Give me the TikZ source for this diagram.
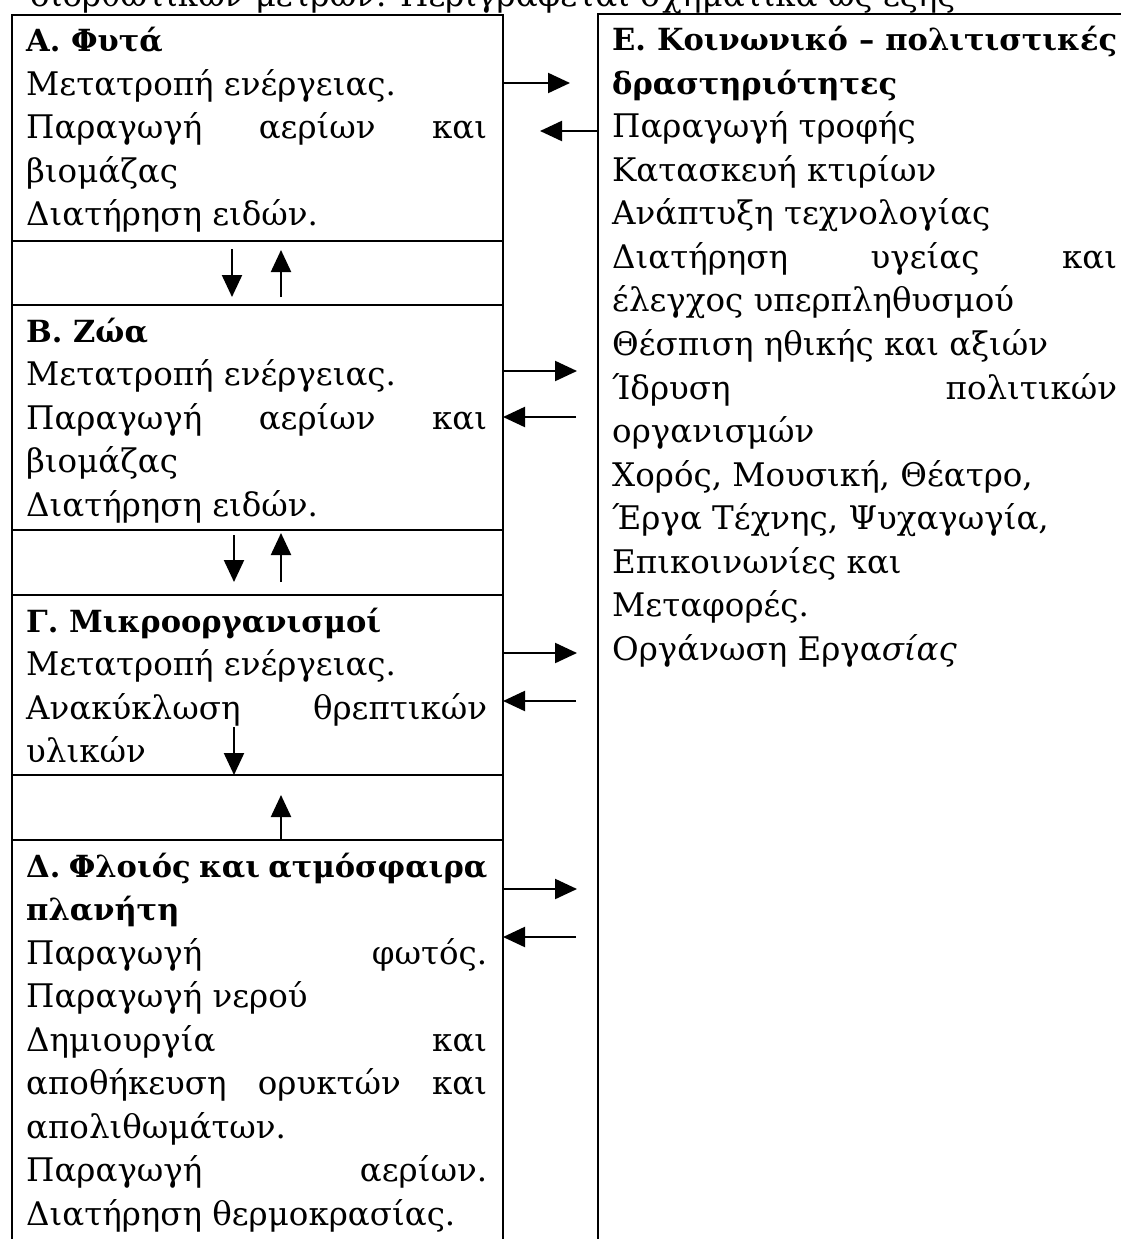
\documentclass[tikz,border=0pt]{standalone}
\usepackage{fontspec}
\setmainfont{DejaVu Serif}
\usetikzlibrary{arrows.meta}
\newcommand\jline[1]{\hbox to\hsize{#1}}
\newcommand\pline[1]{\hbox to\hsize{#1\hfil}}
\newcommand\ttl[1]{{\fontsize{30.5}{43.5}\selectfont\bfseries #1}}
\newcommand\boxlines[2]{\vtop{\hsize=#1\baselineskip=43.5pt\lineskiplimit=-100pt\lineskip=0pt\relax #2}}
\begin{document}
\begin{tikzpicture}[x=1pt,y=-1pt,
  panel/.style={draw, line width=2pt, inner sep=0pt, outer sep=0pt, anchor=north west},
  txt/.style={anchor=base west, inner sep=0pt, font=\fontsize{32.5}{43.5}\selectfont},
  arr/.style={line width=2.2pt, -{Triangle[length=22pt,width=20pt]}}]
\useasboundingbox (0,0) rectangle (1121,1239);
\clip (0,0) rectangle (1121,1239);
\fill[white] (0,0) rectangle (1121,1239);

% heading line above the table (its upper part lies outside the picture)
\node[txt] (head) at (30,7) {διορθωτικών μέτρων. Περιγράφεται σχηματικά ως εξής};

% left column panels
\node[panel, minimum width=491pt, minimum height=226pt] (A) at (12,15) {};
\node[panel, minimum width=491pt, minimum height=64pt] (G1) at (12,241) {};
\node[panel, minimum width=491pt, minimum height=225pt] (B) at (12,305) {};
\node[panel, minimum width=491pt, minimum height=65pt] (G2) at (12,530) {};
\node[panel, minimum width=491pt, minimum height=180pt] (C) at (12,595) {};
\node[panel, minimum width=491pt, minimum height=65pt] (G3) at (12,775) {};
\node[panel, minimum width=491pt, minimum height=420pt] (D) at (12,840) {};
% right panel
\node[panel, minimum width=532pt, minimum height=1246pt] (E) at (598,14) {};

% texts
\node[txt] (tA) at (26,52) {\boxlines{461pt}{%
  \pline{\ttl{Α. Φυτά}}%
  \pline{Μετατροπή ενέργειας.}%
  \jline{Παραγωγή\hfill αερίων\hfill και}%
  \pline{βιομάζας}%
  \pline{Διατήρηση ειδών.}}};
\node[txt] (tB) at (26,342) {\boxlines{461pt}{%
  \pline{\ttl{Β. Ζώα}}%
  \pline{Μετατροπή ενέργειας.}%
  \jline{Παραγωγή\hfill αερίων\hfill και}%
  \pline{βιομάζας}%
  \pline{Διατήρηση ειδών.}}};
\node[txt] (tC) at (26,632) {\boxlines{461pt}{%
  \pline{\ttl{Γ. Μικροοργανισμοί}}%
  \pline{Μετατροπή ενέργειας.}%
  \jline{Ανακύκλωση\hfill θρεπτικών}%
  \pline{υλικών}}};
\node[txt] (tD) at (26,877) {\boxlines{461pt}{%
  \jline{\ttl{Δ.}\hfill\ttl{Φλοιός}\hfill\ttl{και}\hfill\ttl{ατμόσφαιρα}}%
  \pline{\ttl{πλανήτη}}%
  \jline{Παραγωγή\hfill φωτός.}%
  \pline{Παραγωγή νερού}%
  \jline{Δημιουργία\hfill και}%
  \jline{αποθήκευση\hfill ορυκτών\hfill και}%
  \pline{απολιθωμάτων.}%
  \jline{Παραγωγή\hfill αερίων.}%
  \pline{Διατήρηση θερμοκρασίας.}}};
\node[txt] (tE) at (612,51) {\boxlines{505pt}{%
  \jline{\ttl{Ε.}\hfill\ttl{Κοινωνικό}\hfill\ttl{–}\hfill\ttl{πολιτιστικές}}%
  \pline{\ttl{δραστηριότητες}}%
  \pline{Παραγωγή τροφής}%
  \pline{Κατασκευή κτιρίων}%
  \pline{Ανάπτυξη τεχνολογίας}%
  \jline{Διατήρηση\hfill υγείας\hfill και}%
  \pline{έλεγχος υπερπληθυσμού}%
  \pline{Θέσπιση ηθικής και αξιών}%
  \jline{Ίδρυση\hfill πολιτικών}%
  \pline{οργανισμών}%
  \pline{Χορός, Μουσική, Θέατρο,}%
  \pline{Έργα Τέχνης, Ψυχαγωγία,}%
  \pline{Επικοινωνίες και}%
  \pline{Μεταφορές.}%
  \pline{Οργάνωση Εργα\textit{σίας}}}};

% horizontal arrow free ends
\coordinate (aR) at (570,83);
\coordinate (aL) at (540,131);
\coordinate (bR) at (577,371);
\coordinate (bL) at (576,417);
\coordinate (cR) at (577,653);
\coordinate (cL) at (576,701);
\coordinate (dR) at (577,889);
\coordinate (dL) at (576,937);
\draw[arr] (A.east |- aR) -- (aR);
\draw[arr] (E.west |- aL) -- (aL);
\draw[arr] (B.east |- bR) -- (bR);
\draw[arr] (bL) -- (B.east |- bL);
\draw[arr] (C.east |- cR) -- (cR);
\draw[arr] (cL) -- (C.east |- cL);
\draw[arr] (D.east |- dR) -- (dR);
\draw[arr] (dL) -- (D.east |- dL);

% vertical arrows
\coordinate (v1a) at (232,249); \coordinate (v1b) at (232,297);
\coordinate (v2a) at (281,297); \coordinate (v2b) at (281,250);
\coordinate (v3a) at (234,535); \coordinate (v3b) at (234,582);
\coordinate (v4a) at (281,582); \coordinate (v4b) at (281,533);
\coordinate (v5a) at (234,727);
\coordinate (v6b) at (281,795);
\draw[arr] (v1a) -- (v1b);
\draw[arr] (v2a) -- (v2b);
\draw[arr] (v3a) -- (v3b);
\draw[arr] (v4a) -- (v4b);
\draw[arr] (v5a) -- (C.south -| v5a);
\draw[arr] (D.north -| v6b) -- (v6b);
\end{tikzpicture}
\end{document}
